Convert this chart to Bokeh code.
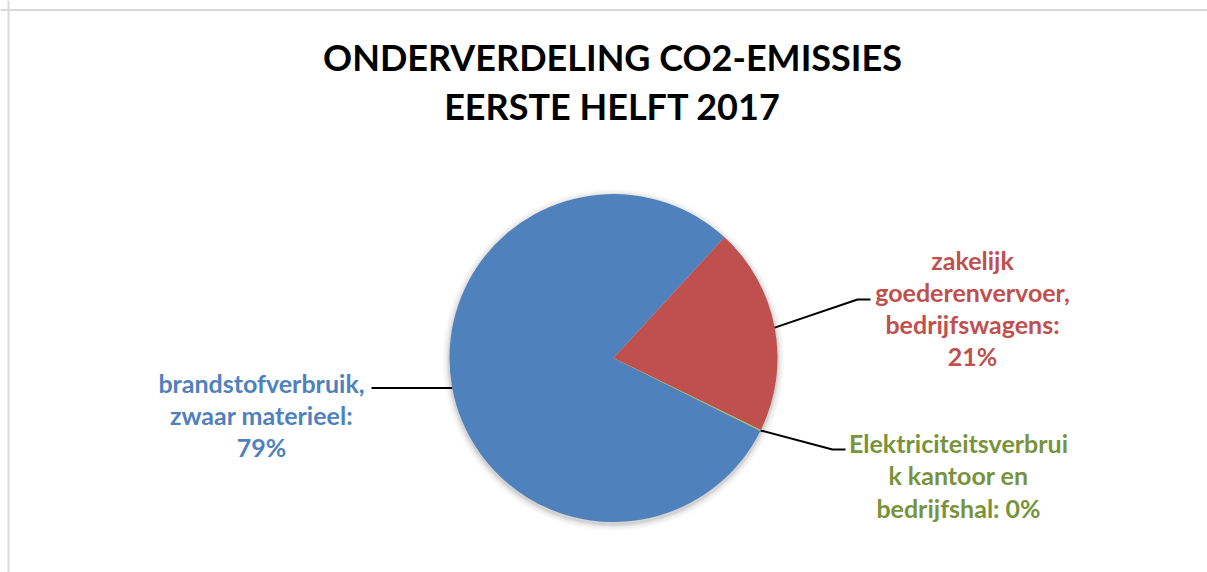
import math
from bokeh.plotting import figure
from bokeh.models import Range1d, Span, ColumnDataSource
from bokeh.core.properties import value
from bokeh.embed import file_html
from bokeh.resources import INLINE

# ---- data ----
categories = [
    "brandstofverbruik, zwaar materieel",
    "zakelijk goederenvervoer, bedrijfswagens",
    "Elektriciteitsverbruik kantoor en bedrijfshal",
]
shares = [79.5, 20.4, 0.1]
label_lines = [
    ["brandstofverbruik,", "zwaar materieel:", "79%"],
    ["zakelijk", "goederenvervoer,", "bedrijfswagens:", "21%"],
    ["Elektriciteitsverbrui", "k kantoor en", "bedrijfshal: 0%"],
]
title_lines = ["ONDERVERDELING CO2-EMISSIES", "EERSTE HELFT 2017"]

# ---- styles / layout ----
slice_colors = ["#4f81bd", "#c0504d", "#9bbb59"]
text_colors = ["#4f81bd", "#c0504d", "#77933c"]
FONT = "Lato"
W, H = 1207, 572


def sx(x):
    return x


def sy(y):
    return H - y


cx, cy, R = sx(613), sy(357.5), 164
first_angle = 116.4  # degrees clockwise from 12 o'clock

# label block positions (center x, first line y, line spacing) in image pixels
label_pos = [(261, 382, 32), (972, 259, 32.3), (958, 442, 32.5)]
# leader elbow points (image pixels) after the pie anchor
leader_pts = [[(371, None)], [(857, 299), (870, 299)], [(832, 449), (845, 449)]]

p = figure(width=W, height=H, output_backend="svg", toolbar_location=None,
           x_range=Range1d(0, W), y_range=Range1d(0, H), min_border=0)
p.axis.visible = False
p.grid.visible = False
p.outline_line_color = None
p.background_fill_color = "white"
p.border_fill_color = "white"

# chart frame (top + left edges visible in window)
p.add_layout(Span(location=sx(8), dimension="height", line_color="#d9d9d9", line_width=2))
p.add_layout(Span(location=sy(9.5), dimension="width", line_color="#d9d9d9", line_width=2))

# soft shadow
for k, a in [(7, 0.025), (5, 0.035), (3, 0.05), (1.5, 0.07)]:
    p.circle(x=[cx], y=[cy - 2], radius=R + k, fill_color="black", fill_alpha=a, line_color=None)

# wedges
total = sum(shares)
starts, ends, mids = [], [], []
cum = 0.0
for s in shares:
    t0 = first_angle + 360 * cum / total
    cum += s
    t1 = first_angle + 360 * cum / total
    starts.append(math.radians(90 - t1))
    ends.append(math.radians(90 - t0))
    mids.append((t0 + t1) / 2)

src = ColumnDataSource(dict(start=starts, end=ends, color=slice_colors, cat=categories, share=shares))
p.wedge(x=cx, y=cy, radius=R, start_angle="start", end_angle="end",
        fill_color="color", line_color=None, source=src)

# leader lines
for m, pts in zip(mids, leader_pts):
    ax = cx + R * math.sin(math.radians(m))
    ay = cy + R * math.cos(math.radians(m))
    xs, ys = [ax], [ay]
    for (px, py) in pts:
        xs.append(sx(px))
        ys.append(ay if py is None else sy(py))
    p.line(xs, ys, line_color="black", line_width=2)

# labels
tx, ty, tt, tc = [], [], [], []
for lines, (lx, ly, sp), col in zip(label_lines, label_pos, text_colors):
    for i, ln in enumerate(lines):
        tx.append(sx(lx))
        ty.append(sy(ly + i * sp))
        tt.append(ln)
        tc.append(col)
p.text(x=tx, y=ty, text=tt, text_color=tc, text_align="center", text_baseline="middle",
       text_font=value(FONT), text_font_style="bold", text_font_size=value("25px"))

# title
p.text(x=[sx(612)] * 2, y=[sy(56), sy(105)], text=title_lines, text_color="black",
       text_align="center", text_baseline="middle", text_font=value(FONT),
       text_font_style="bold", text_font_size=value("36px"))

open("out.html", "w").write(file_html(p, INLINE))
